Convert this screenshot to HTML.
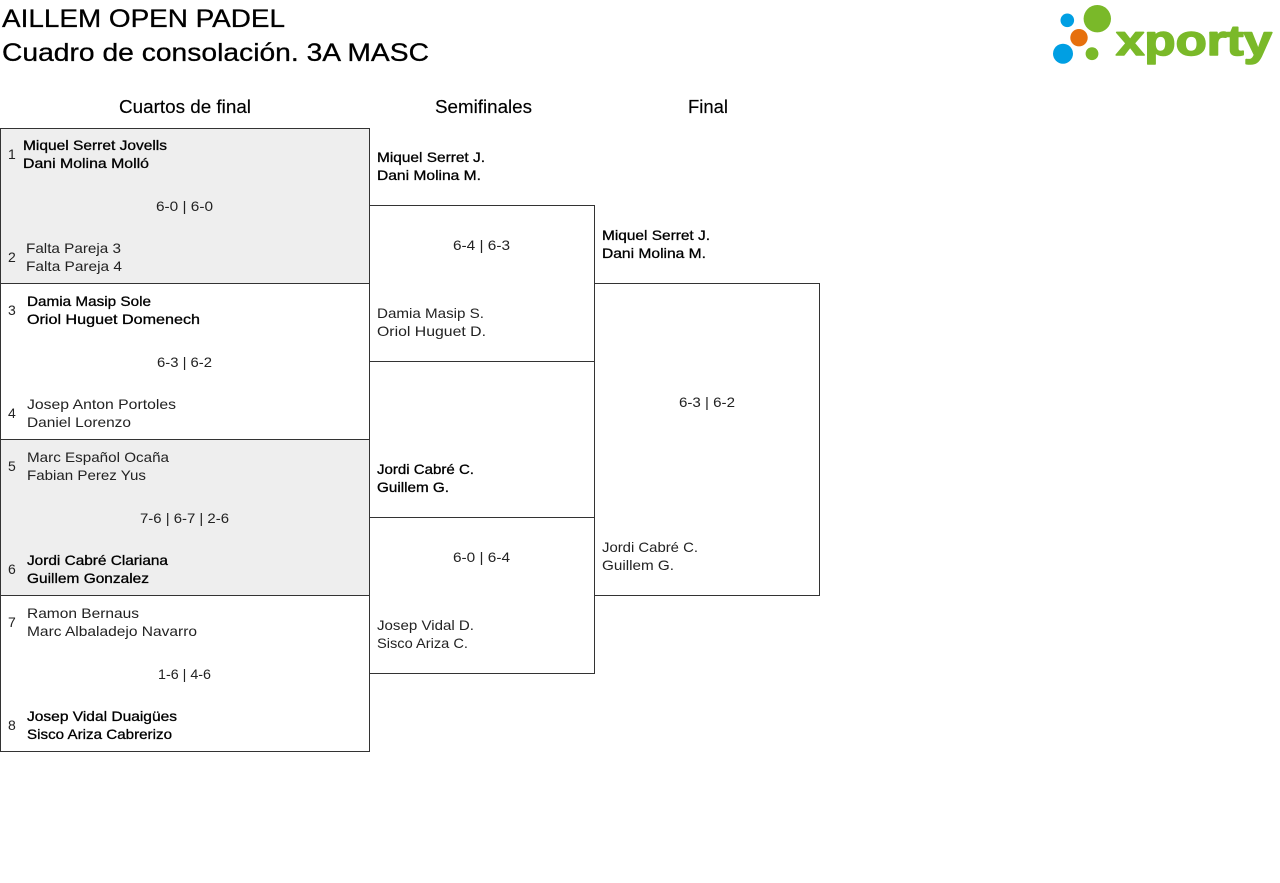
<!DOCTYPE html>
<html>
<head>
<meta charset="utf-8">
<style>
  html, body { margin:0; padding:0; background:#fff; }
  body { width:1280px; height:883px; overflow:hidden; position:relative; }
  svg { position:absolute; left:0; top:0; }
  text { font-family: "Liberation Sans", Arial, sans-serif; }
  .t { font-size:25px; fill:#000; stroke:#000; stroke-width:0.3px; }
  .h { font-size:18px; fill:#000; stroke:#000; stroke-width:0.15px; }
  .w { font-size:14px; fill:#000; stroke:#000; stroke-width:0.3px; }
  .l { font-size:14px; fill:#222; }
  .s { font-size:14px; fill:#222; }
  .n { font-size:14px; fill:#222; }
</style>
</head>
<body>
<svg width="1280" height="883" viewBox="0 0 1280 883" xmlns="http://www.w3.org/2000/svg">
  <!-- Titles -->
  <text class="t" x="2" y="27" textLength="283" lengthAdjust="spacingAndGlyphs">AILLEM OPEN PADEL</text>
  <text class="t" x="2" y="61" textLength="427" lengthAdjust="spacingAndGlyphs">Cuadro de consolación. 3A MASC</text>

  <!-- Logo -->
  <circle cx="1067.3" cy="20.3" r="6.8" fill="#009fe3"/>
  <circle cx="1097.3" cy="18.7" r="13.7" fill="#7ab929"/>
  <circle cx="1079" cy="37.7" r="8.7" fill="#e6700e"/>
  <circle cx="1063" cy="53.7" r="10" fill="#009fe3"/>
  <circle cx="1092" cy="53.7" r="6.4" fill="#7ab929"/>
  <text x="1116" y="55" font-size="43" font-weight="bold" fill="#7ab929" stroke="#7ab929" stroke-width="1.6" stroke-linejoin="round" textLength="156" lengthAdjust="spacingAndGlyphs" style="font-family:'Liberation Sans',Arial,sans-serif;">xporty</text>

  <!-- Headers -->
  <text class="h" x="119" y="113" textLength="132" lengthAdjust="spacingAndGlyphs">Cuartos de final</text>
  <text class="h" x="435" y="113" textLength="97" lengthAdjust="spacingAndGlyphs">Semifinales</text>
  <text class="h" x="688" y="113" textLength="40" lengthAdjust="spacingAndGlyphs">Final</text>

  <!-- QF shaded backgrounds -->
  <rect x="0" y="128" width="370" height="156" fill="#eeeeee"/>
  <rect x="0" y="439" width="370" height="156" fill="#eeeeee"/>

  <!-- Boxes -->
  <g fill="none" stroke="#333" stroke-width="1">
    <rect x="0.5" y="128.5" width="369" height="623"/>
    <line x1="0" y1="283.5" x2="370" y2="283.5"/>
    <line x1="0" y1="439.5" x2="370" y2="439.5"/>
    <line x1="0" y1="595.5" x2="370" y2="595.5"/>
    <rect x="369.5" y="205.5" width="225" height="156" fill="#fff"/>
    <rect x="369.5" y="517.5" width="225" height="156" fill="#fff"/>
    <rect x="594.5" y="283.5" width="225" height="312" fill="#fff"/>
  </g>

  <!-- QF 1 -->
  <text class="n" x="8" y="159">1</text>
  <text class="w" x="23" y="150" textLength="144" lengthAdjust="spacingAndGlyphs">Miquel Serret Jovells</text>
  <text class="w" x="23" y="168" textLength="126" lengthAdjust="spacingAndGlyphs">Dani Molina Molló</text>
  <text class="s" x="156" y="211" textLength="57" lengthAdjust="spacingAndGlyphs">6-0 | 6-0</text>
  <text class="n" x="8" y="262">2</text>
  <text class="l" x="26" y="253" textLength="95" lengthAdjust="spacingAndGlyphs">Falta Pareja 3</text>
  <text class="l" x="26" y="271" textLength="96" lengthAdjust="spacingAndGlyphs">Falta Pareja 4</text>

  <!-- QF 2 -->
  <text class="n" x="8" y="315">3</text>
  <text class="w" x="27" y="306" textLength="124" lengthAdjust="spacingAndGlyphs">Damia Masip Sole</text>
  <text class="w" x="27" y="324" textLength="173" lengthAdjust="spacingAndGlyphs">Oriol Huguet Domenech</text>
  <text class="s" x="157" y="367" textLength="55" lengthAdjust="spacingAndGlyphs">6-3 | 6-2</text>
  <text class="n" x="8" y="418">4</text>
  <text class="l" x="27" y="409" textLength="149" lengthAdjust="spacingAndGlyphs">Josep Anton Portoles</text>
  <text class="l" x="27" y="427" textLength="104" lengthAdjust="spacingAndGlyphs">Daniel Lorenzo</text>

  <!-- QF 3 -->
  <text class="n" x="8" y="471">5</text>
  <text class="l" x="27" y="462" textLength="142" lengthAdjust="spacingAndGlyphs">Marc Español Ocaña</text>
  <text class="l" x="27" y="480" textLength="119" lengthAdjust="spacingAndGlyphs">Fabian Perez Yus</text>
  <text class="s" x="140" y="523" textLength="89" lengthAdjust="spacingAndGlyphs">7-6 | 6-7 | 2-6</text>
  <text class="n" x="8" y="574">6</text>
  <text class="w" x="27" y="565" textLength="141" lengthAdjust="spacingAndGlyphs">Jordi Cabré Clariana</text>
  <text class="w" x="27" y="583" textLength="122" lengthAdjust="spacingAndGlyphs">Guillem Gonzalez</text>

  <!-- QF 4 -->
  <text class="n" x="8" y="627">7</text>
  <text class="l" x="27" y="618" textLength="112" lengthAdjust="spacingAndGlyphs">Ramon Bernaus</text>
  <text class="l" x="27" y="636" textLength="170" lengthAdjust="spacingAndGlyphs">Marc Albaladejo Navarro</text>
  <text class="s" x="158" y="679" textLength="53" lengthAdjust="spacingAndGlyphs">1-6 | 4-6</text>
  <text class="n" x="8" y="730">8</text>
  <text class="w" x="27" y="721" textLength="150" lengthAdjust="spacingAndGlyphs">Josep Vidal Duaigües</text>
  <text class="w" x="27" y="739" textLength="145" lengthAdjust="spacingAndGlyphs">Sisco Ariza Cabrerizo</text>

  <!-- Semis 1 -->
  <text class="w" x="377" y="162" textLength="108" lengthAdjust="spacingAndGlyphs">Miquel Serret J.</text>
  <text class="w" x="377" y="180" textLength="104" lengthAdjust="spacingAndGlyphs">Dani Molina M.</text>
  <text class="s" x="453" y="250" textLength="57" lengthAdjust="spacingAndGlyphs">6-4 | 6-3</text>
  <text class="l" x="377" y="318" textLength="107" lengthAdjust="spacingAndGlyphs">Damia Masip S.</text>
  <text class="l" x="377" y="336" textLength="109" lengthAdjust="spacingAndGlyphs">Oriol Huguet D.</text>

  <!-- Semis 2 -->
  <text class="w" x="377" y="474" textLength="97" lengthAdjust="spacingAndGlyphs">Jordi Cabré C.</text>
  <text class="w" x="377" y="492" textLength="72" lengthAdjust="spacingAndGlyphs">Guillem G.</text>
  <text class="s" x="453" y="562" textLength="57" lengthAdjust="spacingAndGlyphs">6-0 | 6-4</text>
  <text class="l" x="377" y="630" textLength="97" lengthAdjust="spacingAndGlyphs">Josep Vidal D.</text>
  <text class="l" x="377" y="648" textLength="91" lengthAdjust="spacingAndGlyphs">Sisco Ariza C.</text>

  <!-- Final -->
  <text class="w" x="602" y="240" textLength="108" lengthAdjust="spacingAndGlyphs">Miquel Serret J.</text>
  <text class="w" x="602" y="258" textLength="104" lengthAdjust="spacingAndGlyphs">Dani Molina M.</text>
  <text class="s" x="679" y="407" textLength="56" lengthAdjust="spacingAndGlyphs">6-3 | 6-2</text>
  <text class="l" x="602" y="552" textLength="96" lengthAdjust="spacingAndGlyphs">Jordi Cabré C.</text>
  <text class="l" x="602" y="570" textLength="72" lengthAdjust="spacingAndGlyphs">Guillem G.</text>
</svg>
</body>
</html>
